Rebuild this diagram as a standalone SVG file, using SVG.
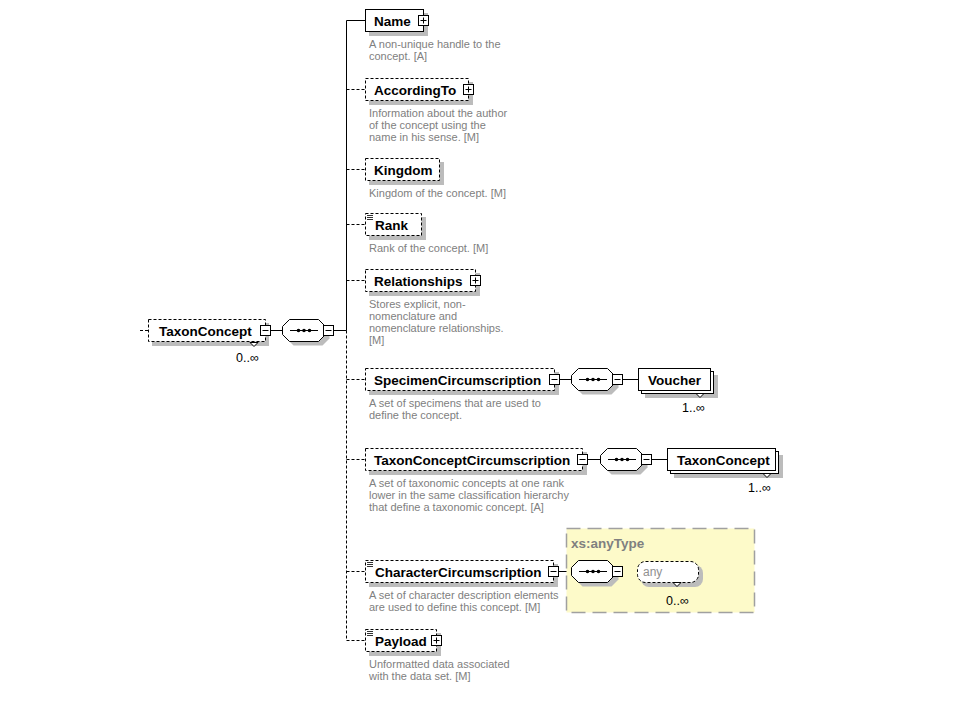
<svg xmlns="http://www.w3.org/2000/svg" xmlns:xlink="http://www.w3.org/1999/xlink" width="960" height="720" viewBox="0 0 960 720">
<style>
.bg{fill:#fff}
.box{fill:#fff;stroke:#000;stroke-width:1}
.dash{stroke-dasharray:3 2}
.sh{fill:#bcbcbc}
.lbl{font-family:"Liberation Sans",Arial,sans-serif;font-weight:bold;font-size:13.5px;fill:#000}
.desc{font-family:"Liberation Sans",Arial,sans-serif;font-size:11px;fill:#808080}
.occ{font-family:"Liberation Sans",Arial,sans-serif;font-size:12.5px;fill:#000}
.ln{stroke:#000;stroke-width:1;fill:none}
.chev{fill:#fff;stroke:#000;stroke-width:1}
</style>
<defs>
<g id="plus"><rect x="0.5" y="0.5" width="10" height="10" fill="#fff" stroke="#000"/><path d="M2.5 5.5H8.5M5.5 2.5V8.5" stroke="#000" fill="none"/></g>
<g id="minus"><rect x="0.5" y="0.5" width="10" height="10" fill="#fff" stroke="#000"/><path d="M2.5 5.5H8.5" stroke="#000" fill="none"/></g>
<g id="lines3"><path d="M0 0.5H6M0 2.5H6M0 4.5H6" stroke="#333" stroke-width="1" fill="none"/></g>
<g id="seq">
<polygon class="sh" points="11.5,4.5 40.5,4.5 47.5,11.5 47.5,19.5 40.5,26.5 11.5,26.5 4.5,19.5 4.5,11.5"/>
<polygon class="box" points="7.5,0.5 36.5,0.5 43.5,7.5 43.5,15.5 36.5,22.5 7.5,22.5 0.5,15.5 0.5,7.5"/>
<path d="M8 11.5H36" stroke="#000" fill="none"/>
<circle cx="16.5" cy="11.5" r="1.8" fill="#000"/>
<circle cx="22" cy="11.5" r="1.8" fill="#000"/>
<circle cx="27.5" cy="11.5" r="1.8" fill="#000"/>
<use xlink:href="#minus" x="41" y="6"/>
</g>
</defs>
<rect class="bg" x="0" y="0" width="960" height="720"/>

<g id="connectors">
<path class="ln dash" d="M140 330.5H148"/>
<path class="ln" d="M271 330.5H282"/>
<path class="ln" d="M333 330.5H346.5"/>
<path class="ln" d="M346.5 20.5V330.5"/>
<path class="ln dash" d="M346.5 330.5V640.5"/>
<path class="ln" d="M346.5 20.5H365"/>
<path class="ln dash" d="M346.5 89.5H365M346.5 169.5H365M346.5 224.5H365M346.5 280.5H365M346.5 379.5H365M346.5 459.5H365M346.5 571.5H365M346.5 640.5H365"/>
<path class="ln" d="M560 379.5H571M623 379.5H638"/>
<path class="ln" d="M588 459.5H600M652 459.5H667"/>
<path class="ln" d="M559 571.5H571"/>
<path class="ln dash" d="M623 571.5H637"/>
</g>

<g id="anyType">
<rect x="566.5" y="528.5" width="188" height="84" fill="#fdfac9" stroke="#a0a0a0" stroke-width="1.5" stroke-dasharray="14 7"/>
<text x="571" y="548" class="lbl" style="fill:#808080">xs:anyType</text>
</g>

<g id="root">
<rect class="sh" x="152" y="323" width="117" height="23"/>
<rect class="box dash" x="148.5" y="319.5" width="117" height="22"/>
<text class="lbl" x="159" y="335.5">TaxonConcept</text>
<use xlink:href="#minus" x="260" y="325"/>
<polygon class="chev" points="250,342.5 254,346.5 258,342.5"/>
<text class="occ" x="236" y="362">0..∞</text>
</g>

<g id="seq-root"><use xlink:href="#seq" x="282" y="319"/></g>

<g id="name">
<rect class="sh" x="369" y="13" width="59" height="23"/>
<rect class="box" x="365.5" y="9.5" width="58" height="22"/>
<text class="lbl" x="374" y="25.5">Name</text>
<use xlink:href="#plus" x="418" y="15"/>
<text class="desc" x="369" y="48">A non-unique handle to the<tspan x="369" dy="12">concept. [A]</tspan></text>
</g>

<g id="accordingto">
<rect class="sh" x="369" y="82" width="104" height="23"/>
<rect class="box dash" x="365.5" y="78.5" width="103" height="22"/>
<text class="lbl" x="374" y="94.5">AccordingTo</text>
<use xlink:href="#plus" x="463" y="84"/>
<text class="desc" x="369" y="117">Information about the author<tspan x="369" dy="12">of the concept using the</tspan><tspan x="369" dy="12">name in his sense. [M]</tspan></text>
</g>

<g id="kingdom">
<rect class="sh" x="369" y="162" width="75" height="23"/>
<rect class="box dash" x="365.5" y="158.5" width="74" height="22"/>
<text class="lbl" x="374" y="174.5">Kingdom</text>
<text class="desc" x="369" y="197">Kingdom of the concept. [M]</text>
</g>

<g id="rank">
<rect class="sh" x="369" y="217" width="57" height="23"/>
<rect class="box dash" x="365.5" y="213.5" width="56" height="22"/>
<use xlink:href="#lines3" x="367" y="215"/>
<text class="lbl" x="375" y="229.5">Rank</text>
<text class="desc" x="369" y="252">Rank of the concept. [M]</text>
</g>

<g id="relationships">
<rect class="sh" x="369" y="273" width="111" height="23"/>
<rect class="box dash" x="365.5" y="269.5" width="110" height="22"/>
<text class="lbl" x="374" y="285.5">Relationships</text>
<use xlink:href="#plus" x="470" y="275"/>
<text class="desc" x="369" y="308">Stores explicit, non-<tspan x="369" dy="12">nomenclature and</tspan><tspan x="369" dy="12">nomenclature relationships.</tspan><tspan x="369" dy="12">[M]</tspan></text>
</g>

<g id="specimencircumscription">
<rect class="sh" x="369" y="372" width="190" height="23"/>
<rect class="box dash" x="365.5" y="368.5" width="189" height="22"/>
<text class="lbl" x="374" y="384.5">SpecimenCircumscription</text>
<use xlink:href="#minus" x="549" y="374"/>
<text class="desc" x="369" y="407">A set of specimens that are used to<tspan x="369" dy="12">define the concept.</tspan></text>
</g>
<g id="seq-specimen"><use xlink:href="#seq" x="571" y="368"/></g>
<g id="voucher">
<rect class="sh" x="645" y="375" width="73" height="23"/>
<rect class="box" x="641.5" y="371.5" width="72" height="22"/>
<rect class="box" x="638.5" y="368.5" width="72" height="22"/>
<text class="lbl" x="648" y="384.5">Voucher</text>
<polygon class="chev" points="696,393.5 700,397.5 704,393.5"/>
<text class="occ" x="682" y="412">1..∞</text>
</g>

<g id="taxonconceptcircumscription">
<rect class="sh" x="369" y="452" width="218" height="23"/>
<rect class="box dash" x="365.5" y="448.5" width="217" height="22"/>
<text class="lbl" x="374" y="464.5">TaxonConceptCircumscription</text>
<use xlink:href="#minus" x="577" y="454"/>
<text class="desc" x="369" y="487">A set of taxonomic concepts at one rank<tspan x="369" dy="12">lower in the same classification hierarchy</tspan><tspan x="369" dy="12">that define a taxonomic concept. [A]</tspan></text>
</g>
<g id="seq-taxonconcept"><use xlink:href="#seq" x="600" y="448"/></g>
<g id="taxonconcept-child">
<rect class="sh" x="674" y="455" width="109" height="23"/>
<rect class="box" x="670.5" y="451.5" width="108" height="22"/>
<rect class="box" x="667.5" y="448.5" width="108" height="22"/>
<text class="lbl" x="677" y="464.5">TaxonConcept</text>
<polygon class="chev" points="763,473.5 767,477.5 771,473.5"/>
<text class="occ" x="748" y="492">1..∞</text>
</g>

<g id="charactercircumscription">
<rect class="sh" x="369" y="564" width="189" height="23"/>
<rect class="box dash" x="365.5" y="560.5" width="188" height="22"/>
<use xlink:href="#lines3" x="367" y="562"/>
<text class="lbl" x="375" y="576.5">CharacterCircumscription</text>
<use xlink:href="#minus" x="548" y="566"/>
<text class="desc" x="369" y="599">A set of character description elements<tspan x="369" dy="12">are used to define this concept. [M]</tspan></text>
</g>
<g id="seq-character"><use xlink:href="#seq" x="571" y="560"/></g>
<g id="any">
<rect class="sh" x="641" y="565" width="62" height="22" rx="8"/>
<rect class="box dash" x="637.5" y="561.5" width="61" height="21" rx="8"/>
<text x="643" y="576" font-family="Liberation Sans, Arial, sans-serif" font-size="12" fill="#909090">any</text>
<polygon class="chev" points="673,582.5 677,586.5 681,582.5"/>
<text class="occ" x="666" y="605">0..∞</text>
</g>

<g id="payload">
<rect class="sh" x="369" y="633" width="72" height="23"/>
<rect class="box dash" x="365.5" y="629.5" width="71" height="22"/>
<use xlink:href="#lines3" x="367" y="631"/>
<text class="lbl" x="375" y="645.5">Payload</text>
<use xlink:href="#plus" x="431" y="635"/>
<text class="desc" x="369" y="668">Unformatted data associated<tspan x="369" dy="12">with the data set. [M]</tspan></text>
</g>
</svg>
